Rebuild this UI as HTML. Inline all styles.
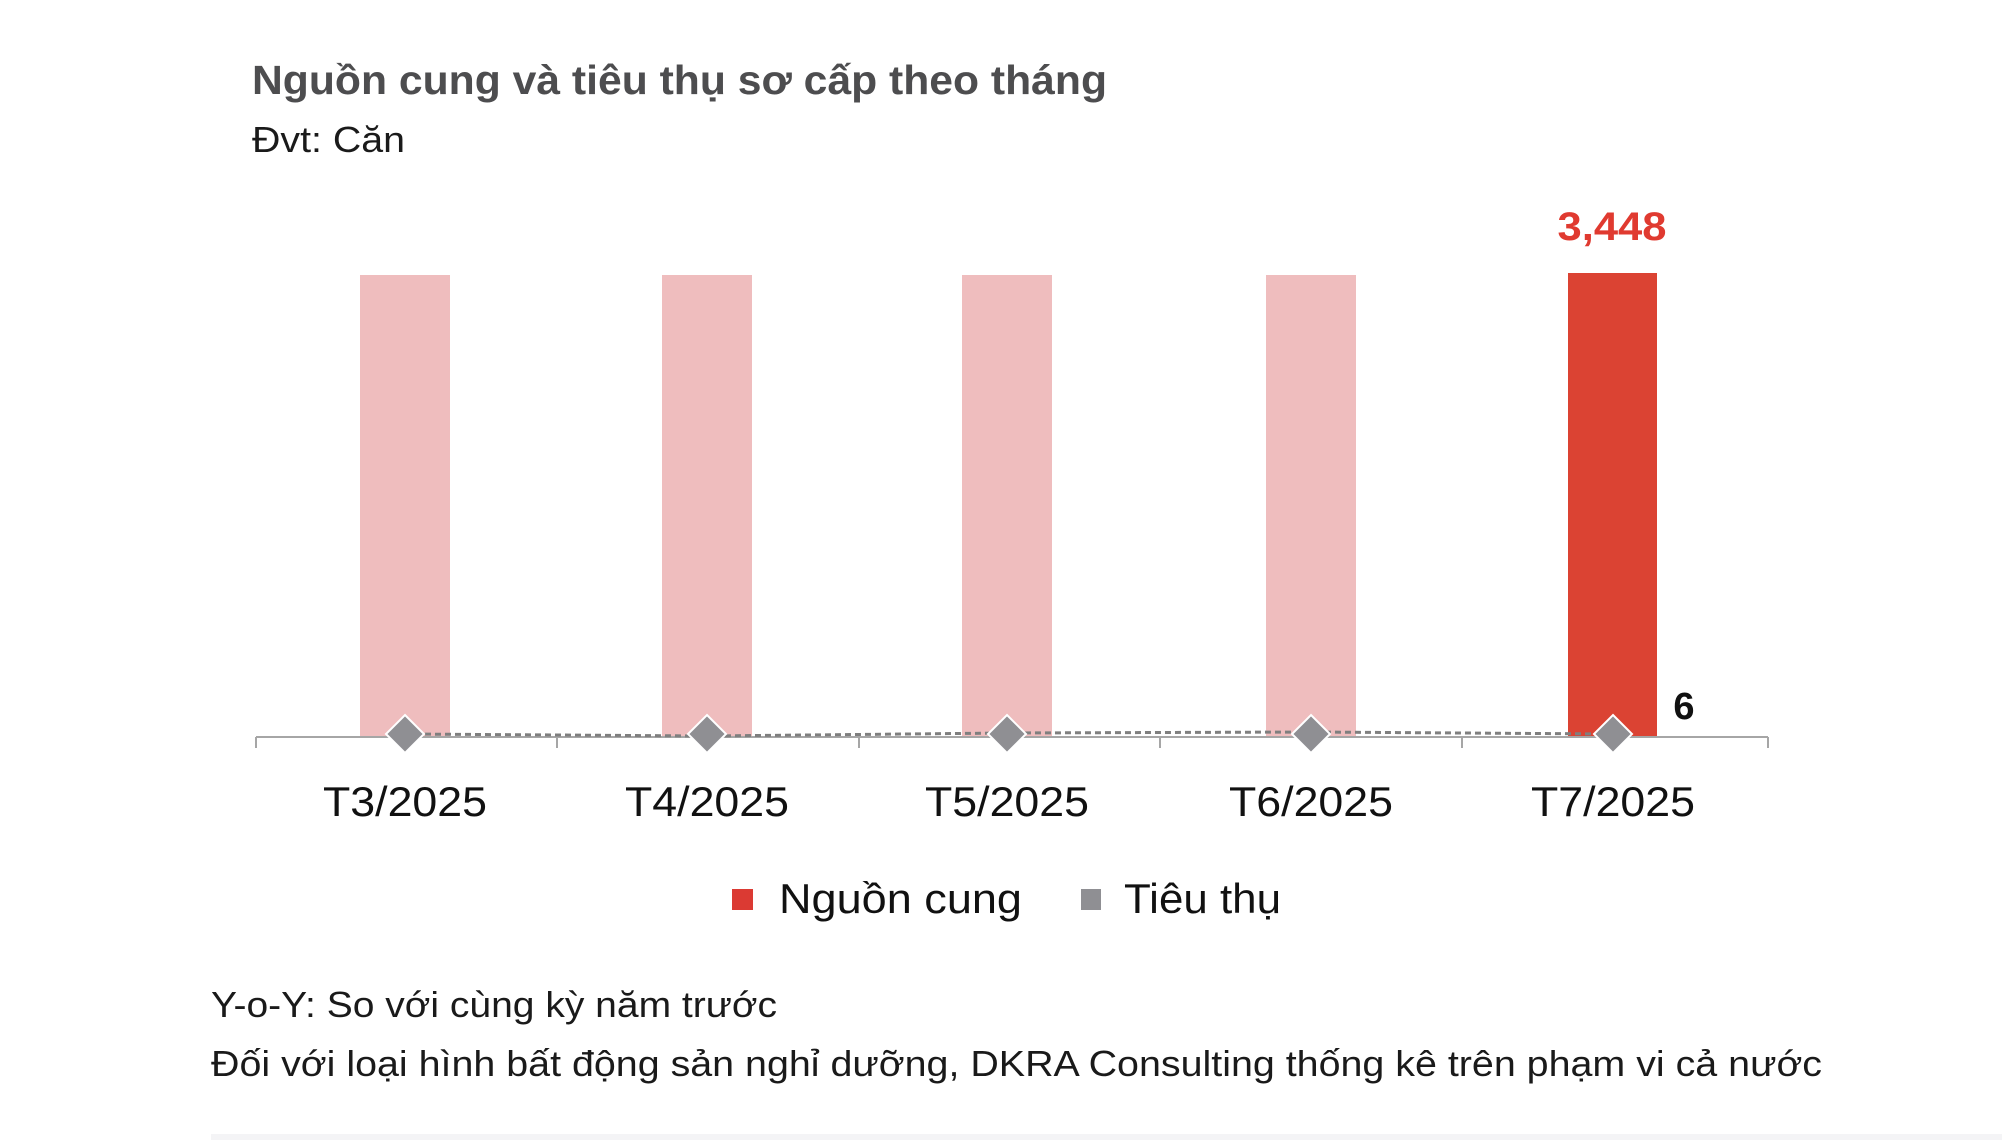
<!DOCTYPE html>
<html><head><meta charset="utf-8"><style>
body{margin:0;background:#fff;}
svg{display:block;font-family:"Liberation Sans","DejaVu Sans",sans-serif;}
</style></head><body>
<svg width="2002" height="1140" viewBox="0 0 2002 1140" xmlns="http://www.w3.org/2000/svg">
<text x="252" y="94" font-size="41" font-weight="bold" fill="#4d4d4f" textLength="855" lengthAdjust="spacingAndGlyphs">Nguồn cung và tiêu thụ sơ cấp theo tháng</text>
<text x="252" y="152" font-size="36" fill="#1a1a1a" textLength="153" lengthAdjust="spacingAndGlyphs">Đvt: Căn</text>
<g fill="#efbdbe">
<rect x="360" y="275" width="90" height="462"/>
<rect x="662" y="275" width="90" height="462"/>
<rect x="962" y="275" width="90" height="462"/>
<rect x="1266" y="275" width="90" height="462"/>
</g>
<rect x="1568" y="273" width="89" height="464" fill="#db4333"/>
<text x="1612" y="240" font-size="40" font-weight="bold" fill="#e03a30" text-anchor="middle" textLength="109" lengthAdjust="spacingAndGlyphs">3,448</text>
<text x="1684" y="719" font-size="38" font-weight="bold" fill="#111" text-anchor="middle">6</text>
<g stroke="#a6a6a6" stroke-width="2" fill="none">
<line x1="256" y1="737" x2="1768" y2="737"/>
<line x1="256" y1="737" x2="256" y2="748"/>
<line x1="557" y1="737" x2="557" y2="748"/>
<line x1="859" y1="737" x2="859" y2="748"/>
<line x1="1160" y1="737" x2="1160" y2="748"/>
<line x1="1462" y1="737" x2="1462" y2="748"/>
<line x1="1768" y1="737" x2="1768" y2="748"/>
</g>
<polyline points="405,734 707,736 1007,733 1311,732 1613,734" fill="none" stroke="#7f7f7f" stroke-width="3" stroke-dasharray="6,4"/>
<g fill="#8f8f93" stroke="#fff" stroke-width="2">
<polygon points="405,715 424,734 405,753 386,734"/>
<polygon points="707,715 726,734 707,753 688,734"/>
<polygon points="1007,715 1026,734 1007,753 988,734"/>
<polygon points="1311,715 1330,734 1311,753 1292,734"/>
<polygon points="1613,715 1632,734 1613,753 1594,734"/>
</g>
<g font-size="42" fill="#111" text-anchor="middle">
<text x="405" y="816" textLength="164" lengthAdjust="spacingAndGlyphs">T3/2025</text>
<text x="707" y="816" textLength="164" lengthAdjust="spacingAndGlyphs">T4/2025</text>
<text x="1007" y="816" textLength="164" lengthAdjust="spacingAndGlyphs">T5/2025</text>
<text x="1311" y="816" textLength="164" lengthAdjust="spacingAndGlyphs">T6/2025</text>
<text x="1613" y="816" textLength="164" lengthAdjust="spacingAndGlyphs">T7/2025</text>
</g>
<rect x="732" y="889" width="21" height="21" fill="#db3a33"/>
<text x="779" y="913" font-size="42" fill="#111" textLength="243" lengthAdjust="spacingAndGlyphs">Nguồn cung</text>
<rect x="1081" y="889" width="20" height="21" fill="#8f8f93"/>
<text x="1124" y="913" font-size="42" fill="#111" textLength="157" lengthAdjust="spacingAndGlyphs">Tiêu thụ</text>
<text x="211" y="1017" font-size="36" fill="#1a1a1a" textLength="566" lengthAdjust="spacingAndGlyphs">Y-o-Y: So với cùng kỳ năm trước</text>
<text x="211" y="1076" font-size="36" fill="#1a1a1a" textLength="1611" lengthAdjust="spacingAndGlyphs">Đối với loại hình bất động sản nghỉ dưỡng, DKRA Consulting thống kê trên phạm vi cả nước</text>
<rect x="211" y="1134" width="1791" height="6" fill="#f4f4f6"/>
</svg>
</body></html>
